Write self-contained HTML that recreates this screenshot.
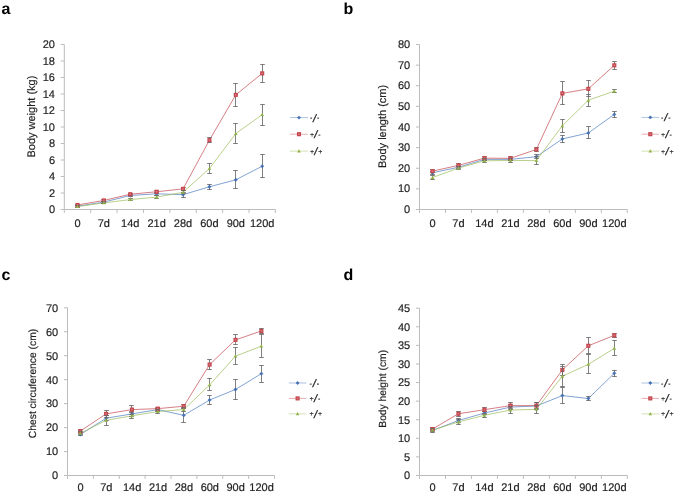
<!DOCTYPE html>
<html lang="en"><head><meta charset="utf-8"><title>Figure</title>
<style>html,body{margin:0;padding:0;background:#fff}body{width:685px;height:501px;overflow:hidden}svg{display:block;will-change:transform}</style>
</head><body>
<svg width="685" height="501" viewBox="0 0 685 501" font-family="'Liberation Sans', Arial, sans-serif" font-size="11" fill="#1f1f1f">
<style>text{text-rendering:geometricPrecision;stroke:#1f1f1f;stroke-width:.18px}text.pl{stroke:none}text.lg{stroke:#222;stroke-width:.12px;fill:#1c1c1c}</style>
<rect width="685" height="501" fill="#fff"/>
<g>
<text x="1.4" y="13.5" class="pl" font-size="16" font-weight="bold" fill="#000">a</text>
<path d="M64.3 44.5V209.5H275.4M60.8 209.5H64.3M60.8 193H64.3M60.8 176.5H64.3M60.8 160H64.3M60.8 143.5H64.3M60.8 127H64.3M60.8 110.5H64.3M60.8 94H64.3M60.8 77.5H64.3M60.8 61H64.3M60.8 44.5H64.3M64.3 209.5V212.9M90.69 209.5V212.9M117.07 209.5V212.9M143.46 209.5V212.9M169.85 209.5V212.9M196.24 209.5V212.9M222.62 209.5V212.9M249.01 209.5V212.9M275.4 209.5V212.9" fill="none" stroke="#bcbcbc" stroke-width="1"/>
<text x="55" y="213" text-anchor="end">0</text>
<text x="55" y="196.5" text-anchor="end">2</text>
<text x="55" y="180" text-anchor="end">4</text>
<text x="55" y="163.5" text-anchor="end">6</text>
<text x="55" y="147" text-anchor="end">8</text>
<text x="55" y="130.5" text-anchor="end">10</text>
<text x="55" y="114" text-anchor="end">12</text>
<text x="55" y="97.5" text-anchor="end">14</text>
<text x="55" y="81" text-anchor="end">16</text>
<text x="55" y="64.5" text-anchor="end">18</text>
<text x="55" y="48" text-anchor="end">20</text>
<text x="77.49" y="226.9" text-anchor="middle">0</text>
<text x="103.88" y="226.9" text-anchor="middle">7d</text>
<text x="130.27" y="226.9" text-anchor="middle">14d</text>
<text x="156.66" y="226.9" text-anchor="middle">21d</text>
<text x="183.04" y="226.9" text-anchor="middle">28d</text>
<text x="209.43" y="226.9" text-anchor="middle">60d</text>
<text x="235.82" y="226.9" text-anchor="middle">90d</text>
<text x="262.21" y="226.9" text-anchor="middle">120d</text>
<text transform="translate(34.9 116.6) rotate(-90)" text-anchor="middle" font-size="11">Body weight (kg)</text>
<polyline points="77.49,206.2 103.88,202.07 130.27,195.47 156.66,193.82 183.04,194.65 209.43,186.81 235.82,179.8 262.21,166.19" fill="none" stroke="#4A7CBE" stroke-width="0.7"/>
<polyline points="77.49,204.96 103.88,200.43 130.27,194.24 156.66,191.76 183.04,188.88 209.43,140.2 235.82,94.83 262.21,73.38" fill="none" stroke="#C4474F" stroke-width="0.7"/>
<polyline points="77.49,206.61 103.88,202.9 130.27,199.6 156.66,197.12 183.04,192.34 209.43,168.5 235.82,133.6 262.21,114.62" fill="none" stroke="#9BBB59" stroke-width="0.7"/>
<path d="M77.5 205.5V207.5M75.2 205.5H79.8M75.2 207.5H79.8M103.5 201.5V203.5M101.2 201.5H105.8M101.2 203.5H105.8M130.5 194.5V196.5M128.2 194.5H132.8M128.2 196.5H132.8M156.5 192.5V195.5M154.2 192.5H158.8M154.2 195.5H158.8M183.5 192.5V197.5M181.2 192.5H185.8M181.2 197.5H185.8M209.5 184.5V189.5M207.2 184.5H211.8M207.2 189.5H211.8M235.5 170.5V188.5M233.2 170.5H237.8M233.2 188.5H237.8M262.5 154.5V177.5M260.2 154.5H264.8M260.2 177.5H264.8" fill="none" stroke="#686868" stroke-width="0.85"/>
<path d="M77.49 204.5L79.19 206.2L77.49 207.9L75.79 206.2Z" fill="#4372BA" stroke="#37609F" stroke-width="0.4"/>
<path d="M103.88 200.38L105.58 202.07L103.88 203.77L102.18 202.07Z" fill="#4372BA" stroke="#37609F" stroke-width="0.4"/>
<path d="M130.27 193.78L131.97 195.47L130.27 197.17L128.57 195.47Z" fill="#4372BA" stroke="#37609F" stroke-width="0.4"/>
<path d="M156.66 192.12L158.36 193.82L156.66 195.52L154.96 193.82Z" fill="#4372BA" stroke="#37609F" stroke-width="0.4"/>
<path d="M183.04 192.95L184.74 194.65L183.04 196.35L181.34 194.65Z" fill="#4372BA" stroke="#37609F" stroke-width="0.4"/>
<path d="M209.43 185.11L211.13 186.81L209.43 188.51L207.73 186.81Z" fill="#4372BA" stroke="#37609F" stroke-width="0.4"/>
<path d="M235.82 178.1L237.52 179.8L235.82 181.5L234.12 179.8Z" fill="#4372BA" stroke="#37609F" stroke-width="0.4"/>
<path d="M262.21 164.49L263.91 166.19L262.21 167.89L260.51 166.19Z" fill="#4372BA" stroke="#37609F" stroke-width="0.4"/>
<path d="M77.5 204.5V205.5M75.2 204.5H79.8M75.2 205.5H79.8M103.5 199.5V201.5M101.2 199.5H105.8M101.2 201.5H105.8M130.5 193.5V195.5M128.2 193.5H132.8M128.2 195.5H132.8M156.5 190.5V193.5M154.2 190.5H158.8M154.2 193.5H158.8M183.5 187.5V190.5M181.2 187.5H185.8M181.2 190.5H185.8M209.5 137.5V142.5M207.2 137.5H211.8M207.2 142.5H211.8M235.5 83.5V106.5M233.2 83.5H237.8M233.2 106.5H237.8M262.5 64.5V82.5M260.2 64.5H264.8M260.2 82.5H264.8" fill="none" stroke="#686868" stroke-width="0.85"/>
<rect x="76.04" y="203.51" width="2.9" height="2.9" fill="#d8747a" stroke="#C4444C" stroke-width="1.2"/>
<rect x="102.43" y="198.98" width="2.9" height="2.9" fill="#d8747a" stroke="#C4444C" stroke-width="1.2"/>
<rect x="128.82" y="192.79" width="2.9" height="2.9" fill="#d8747a" stroke="#C4444C" stroke-width="1.2"/>
<rect x="155.21" y="190.31" width="2.9" height="2.9" fill="#d8747a" stroke="#C4444C" stroke-width="1.2"/>
<rect x="181.59" y="187.43" width="2.9" height="2.9" fill="#d8747a" stroke="#C4444C" stroke-width="1.2"/>
<rect x="207.98" y="138.75" width="2.9" height="2.9" fill="#d8747a" stroke="#C4444C" stroke-width="1.2"/>
<rect x="234.37" y="93.38" width="2.9" height="2.9" fill="#d8747a" stroke="#C4444C" stroke-width="1.2"/>
<rect x="260.76" y="71.92" width="2.9" height="2.9" fill="#d8747a" stroke="#C4444C" stroke-width="1.2"/>
<path d="M77.5 205.5V207.5M75.2 205.5H79.8M75.2 207.5H79.8M103.5 201.5V203.5M101.2 201.5H105.8M101.2 203.5H105.8M130.5 198.5V200.5M128.2 198.5H132.8M128.2 200.5H132.8M156.5 195.5V198.5M154.2 195.5H158.8M154.2 198.5H158.8M183.5 190.5V193.5M181.2 190.5H185.8M181.2 193.5H185.8M209.5 163.5V173.5M207.2 163.5H211.8M207.2 173.5H211.8M235.5 123.5V143.5M233.2 123.5H237.8M233.2 143.5H237.8M262.5 104.5V125.5M260.2 104.5H264.8M260.2 125.5H264.8" fill="none" stroke="#686868" stroke-width="0.85"/>
<path d="M77.49 204.81L79.29 208.05L75.69 208.05Z" fill="#92B446"/>
<path d="M103.88 201.1L105.68 204.34L102.08 204.34Z" fill="#92B446"/>
<path d="M130.27 197.8L132.07 201.04L128.47 201.04Z" fill="#92B446"/>
<path d="M156.66 195.32L158.46 198.56L154.86 198.56Z" fill="#92B446"/>
<path d="M183.04 190.54L184.84 193.78L181.24 193.78Z" fill="#92B446"/>
<path d="M209.43 166.7L211.23 169.94L207.63 169.94Z" fill="#92B446"/>
<path d="M235.82 131.8L237.62 135.04L234.02 135.04Z" fill="#92B446"/>
<path d="M262.21 112.83L264.01 116.06L260.41 116.06Z" fill="#92B446"/>
<path d="M290 117.6H308" stroke="#4A7CBE" stroke-width="0.6" stroke-opacity="0.75"/>
<path d="M299 115.9L300.7 117.6L299 119.3L297.3 117.6Z" fill="#4372BA" stroke="#37609F" stroke-width="0.4"/>
<text class="lg" x="309.9" y="120" font-size="7">-</text>
<text class="lg" transform="translate(312.6 121.5) skewX(-11)" font-size="10.7" style="stroke-width:.28px;fill:#111">/</text>
<text class="lg" x="317.1" y="120" font-size="7">-</text>
<path d="M290 134.2H308" stroke="#C4474F" stroke-width="0.6" stroke-opacity="0.75"/>
<rect x="297.55" y="132.75" width="2.9" height="2.9" fill="#d8747a" stroke="#C4444C" stroke-width="1.2"/>
<text class="lg" x="309.9" y="137" font-size="7">+</text>
<text class="lg" transform="translate(313.8 138.1) skewX(-11)" font-size="10.7" style="stroke-width:.28px;fill:#111">/</text>
<text class="lg" x="318.3" y="137" font-size="7">-</text>
<path d="M290 151.1H308" stroke="#9BBB59" stroke-width="0.6" stroke-opacity="0.75"/>
<path d="M299 149.3L300.8 152.54L297.2 152.54Z" fill="#92B446"/>
<text class="lg" x="309.9" y="154" font-size="7">+</text>
<text class="lg" transform="translate(313.8 155) skewX(-11)" font-size="10.7" style="stroke-width:.28px;fill:#111">/</text>
<text class="lg" x="318.3" y="154" font-size="7">+</text>
</g>
<g>
<text x="343.4" y="13.5" class="pl" font-size="16" font-weight="bold" fill="#000">b</text>
<path d="M419.5 44.5V209.5H627.3M416 209.5H419.5M416 188.88H419.5M416 168.25H419.5M416 147.62H419.5M416 127H419.5M416 106.38H419.5M416 85.75H419.5M416 65.12H419.5M416 44.5H419.5M419.5 209.5V212.9M445.48 209.5V212.9M471.45 209.5V212.9M497.42 209.5V212.9M523.4 209.5V212.9M549.38 209.5V212.9M575.35 209.5V212.9M601.32 209.5V212.9M627.3 209.5V212.9" fill="none" stroke="#bcbcbc" stroke-width="1"/>
<text x="410.2" y="213" text-anchor="end">0</text>
<text x="410.2" y="192.38" text-anchor="end">10</text>
<text x="410.2" y="171.75" text-anchor="end">20</text>
<text x="410.2" y="151.12" text-anchor="end">30</text>
<text x="410.2" y="130.5" text-anchor="end">40</text>
<text x="410.2" y="109.88" text-anchor="end">50</text>
<text x="410.2" y="89.25" text-anchor="end">60</text>
<text x="410.2" y="68.62" text-anchor="end">70</text>
<text x="410.2" y="48" text-anchor="end">80</text>
<text x="432.49" y="226.9" text-anchor="middle">0</text>
<text x="458.46" y="226.9" text-anchor="middle">7d</text>
<text x="484.44" y="226.9" text-anchor="middle">14d</text>
<text x="510.41" y="226.9" text-anchor="middle">21d</text>
<text x="536.39" y="226.9" text-anchor="middle">28d</text>
<text x="562.36" y="226.9" text-anchor="middle">60d</text>
<text x="588.34" y="226.9" text-anchor="middle">90d</text>
<text x="614.31" y="226.9" text-anchor="middle">120d</text>
<text transform="translate(385.7 126.4) rotate(-90)" text-anchor="middle" font-size="11">Body length (cm)</text>
<polyline points="432.49,172.79 458.46,167.22 484.44,159.38 510.41,159.38 536.39,156.7 562.36,138.96 588.34,132.98 614.31,114.42" fill="none" stroke="#4A7CBE" stroke-width="0.7"/>
<polyline points="432.49,171.14 458.46,165.36 484.44,158.14 510.41,158.35 536.39,149.48 562.36,93.38 588.34,88.84 614.31,65.33" fill="none" stroke="#C4474F" stroke-width="0.7"/>
<polyline points="432.49,177.53 458.46,168.04 484.44,160.82 510.41,160.41 536.39,160.62 562.36,125.76 588.34,100.19 614.31,91.11" fill="none" stroke="#9BBB59" stroke-width="0.7"/>
<path d="M432.5 171.5V174.5M430.2 171.5H434.8M430.2 174.5H434.8M458.5 165.5V168.5M456.2 165.5H460.8M456.2 168.5H460.8M484.5 158.5V160.5M482.2 158.5H486.8M482.2 160.5H486.8M510.5 158.5V160.5M508.2 158.5H512.8M508.2 160.5H512.8M536.5 154.5V158.5M534.2 154.5H538.8M534.2 158.5H538.8M562.5 135.5V142.5M560.2 135.5H564.8M560.2 142.5H564.8M588.5 126.5V138.5M586.2 126.5H590.8M586.2 138.5H590.8M614.5 111.5V117.5M612.2 111.5H616.8M612.2 117.5H616.8" fill="none" stroke="#686868" stroke-width="0.85"/>
<path d="M432.49 171.09L434.19 172.79L432.49 174.49L430.79 172.79Z" fill="#4372BA" stroke="#37609F" stroke-width="0.4"/>
<path d="M458.46 165.52L460.16 167.22L458.46 168.92L456.76 167.22Z" fill="#4372BA" stroke="#37609F" stroke-width="0.4"/>
<path d="M484.44 157.68L486.14 159.38L484.44 161.08L482.74 159.38Z" fill="#4372BA" stroke="#37609F" stroke-width="0.4"/>
<path d="M510.41 157.68L512.11 159.38L510.41 161.08L508.71 159.38Z" fill="#4372BA" stroke="#37609F" stroke-width="0.4"/>
<path d="M536.39 155L538.09 156.7L536.39 158.4L534.69 156.7Z" fill="#4372BA" stroke="#37609F" stroke-width="0.4"/>
<path d="M562.36 137.26L564.06 138.96L562.36 140.66L560.66 138.96Z" fill="#4372BA" stroke="#37609F" stroke-width="0.4"/>
<path d="M588.34 131.28L590.04 132.98L588.34 134.68L586.64 132.98Z" fill="#4372BA" stroke="#37609F" stroke-width="0.4"/>
<path d="M614.31 112.72L616.01 114.42L614.31 116.12L612.61 114.42Z" fill="#4372BA" stroke="#37609F" stroke-width="0.4"/>
<path d="M432.5 169.5V172.5M430.2 169.5H434.8M430.2 172.5H434.8M458.5 163.5V166.5M456.2 163.5H460.8M456.2 166.5H460.8M484.5 156.5V160.5M482.2 156.5H486.8M482.2 160.5H486.8M510.5 156.5V160.5M508.2 156.5H512.8M508.2 160.5H512.8M536.5 147.5V151.5M534.2 147.5H538.8M534.2 151.5H538.8M562.5 81.5V104.5M560.2 81.5H564.8M560.2 104.5H564.8M588.5 80.5V96.5M586.2 80.5H590.8M586.2 96.5H590.8M614.5 61.5V69.5M612.2 61.5H616.8M612.2 69.5H616.8" fill="none" stroke="#686868" stroke-width="0.85"/>
<rect x="431.04" y="169.69" width="2.9" height="2.9" fill="#d8747a" stroke="#C4444C" stroke-width="1.2"/>
<rect x="457.01" y="163.91" width="2.9" height="2.9" fill="#d8747a" stroke="#C4444C" stroke-width="1.2"/>
<rect x="482.99" y="156.69" width="2.9" height="2.9" fill="#d8747a" stroke="#C4444C" stroke-width="1.2"/>
<rect x="508.96" y="156.9" width="2.9" height="2.9" fill="#d8747a" stroke="#C4444C" stroke-width="1.2"/>
<rect x="534.94" y="148.03" width="2.9" height="2.9" fill="#d8747a" stroke="#C4444C" stroke-width="1.2"/>
<rect x="560.91" y="91.93" width="2.9" height="2.9" fill="#d8747a" stroke="#C4444C" stroke-width="1.2"/>
<rect x="586.89" y="87.39" width="2.9" height="2.9" fill="#d8747a" stroke="#C4444C" stroke-width="1.2"/>
<rect x="612.86" y="63.88" width="2.9" height="2.9" fill="#d8747a" stroke="#C4444C" stroke-width="1.2"/>
<path d="M432.5 175.5V179.5M430.2 175.5H434.8M430.2 179.5H434.8M458.5 166.5V169.5M456.2 166.5H460.8M456.2 169.5H460.8M484.5 158.5V162.5M482.2 158.5H486.8M482.2 162.5H486.8M510.5 158.5V162.5M508.2 158.5H512.8M508.2 162.5H512.8M536.5 156.5V164.5M534.2 156.5H538.8M534.2 164.5H538.8M562.5 119.5V132.5M560.2 119.5H564.8M560.2 132.5H564.8M588.5 94.5V106.5M586.2 94.5H590.8M586.2 106.5H590.8M614.5 89.5V92.5M612.2 89.5H616.8M612.2 92.5H616.8" fill="none" stroke="#686868" stroke-width="0.85"/>
<path d="M432.49 175.73L434.29 178.97L430.69 178.97Z" fill="#92B446"/>
<path d="M458.46 166.24L460.26 169.48L456.66 169.48Z" fill="#92B446"/>
<path d="M484.44 159.02L486.24 162.26L482.64 162.26Z" fill="#92B446"/>
<path d="M510.41 158.61L512.21 161.85L508.61 161.85Z" fill="#92B446"/>
<path d="M536.39 158.82L538.19 162.06L534.59 162.06Z" fill="#92B446"/>
<path d="M562.36 123.96L564.16 127.2L560.56 127.2Z" fill="#92B446"/>
<path d="M588.34 98.39L590.14 101.63L586.54 101.63Z" fill="#92B446"/>
<path d="M614.31 89.31L616.11 92.55L612.51 92.55Z" fill="#92B446"/>
<path d="M641.5 117.4H659.1" stroke="#4A7CBE" stroke-width="0.6" stroke-opacity="0.75"/>
<path d="M650.3 115.7L652 117.4L650.3 119.1L648.6 117.4Z" fill="#4372BA" stroke="#37609F" stroke-width="0.4"/>
<text class="lg" x="661.1" y="120" font-size="7">-</text>
<text class="lg" transform="translate(663.8 121.3) skewX(-11)" font-size="10.7" style="stroke-width:.28px;fill:#111">/</text>
<text class="lg" x="668.3" y="120" font-size="7">-</text>
<path d="M641.5 134.2H659.1" stroke="#C4474F" stroke-width="0.6" stroke-opacity="0.75"/>
<rect x="648.85" y="132.75" width="2.9" height="2.9" fill="#d8747a" stroke="#C4444C" stroke-width="1.2"/>
<text class="lg" x="661.1" y="137" font-size="7">+</text>
<text class="lg" transform="translate(665 138.1) skewX(-11)" font-size="10.7" style="stroke-width:.28px;fill:#111">/</text>
<text class="lg" x="669.5" y="137" font-size="7">-</text>
<path d="M641.5 151.1H659.1" stroke="#9BBB59" stroke-width="0.6" stroke-opacity="0.75"/>
<path d="M650.3 149.3L652.1 152.54L648.5 152.54Z" fill="#92B446"/>
<text class="lg" x="661.1" y="154" font-size="7">+</text>
<text class="lg" transform="translate(665 155) skewX(-11)" font-size="10.7" style="stroke-width:.28px;fill:#111">/</text>
<text class="lg" x="669.5" y="154" font-size="7">+</text>
</g>
<g>
<text x="1.4" y="279.5" class="pl" font-size="16" font-weight="bold" fill="#000">c</text>
<path d="M67.5 307.8V475.5H274.5M64 475.5H67.5M64 451.54H67.5M64 427.59H67.5M64 403.63H67.5M64 379.67H67.5M64 355.71H67.5M64 331.76H67.5M64 307.8H67.5M67.5 475.5V478.9M93.38 475.5V478.9M119.25 475.5V478.9M145.12 475.5V478.9M171 475.5V478.9M196.88 475.5V478.9M222.75 475.5V478.9M248.62 475.5V478.9M274.5 475.5V478.9" fill="none" stroke="#bcbcbc" stroke-width="1"/>
<text x="58.2" y="479.35" text-anchor="end">0</text>
<text x="58.2" y="455.39" text-anchor="end">10</text>
<text x="58.2" y="431.44" text-anchor="end">20</text>
<text x="58.2" y="407.48" text-anchor="end">30</text>
<text x="58.2" y="383.52" text-anchor="end">40</text>
<text x="58.2" y="359.56" text-anchor="end">50</text>
<text x="58.2" y="335.61" text-anchor="end">60</text>
<text x="58.2" y="311.65" text-anchor="end">70</text>
<text x="80.44" y="491.2" text-anchor="middle">0</text>
<text x="106.31" y="491.2" text-anchor="middle">7d</text>
<text x="132.19" y="491.2" text-anchor="middle">14d</text>
<text x="158.06" y="491.2" text-anchor="middle">21d</text>
<text x="183.94" y="491.2" text-anchor="middle">28d</text>
<text x="209.81" y="491.2" text-anchor="middle">60d</text>
<text x="235.69" y="491.2" text-anchor="middle">90d</text>
<text x="261.56" y="491.2" text-anchor="middle">120d</text>
<text transform="translate(35.7 383.5) rotate(-90)" text-anchor="middle" font-size="10.3">Chest circuference (cm)</text>
<polyline points="80.24,434.5 106.11,418.21 131.99,413.9 157.86,409.59 183.74,415.34 209.61,400.01 235.49,389.46 261.36,373.65" fill="none" stroke="#4A7CBE" stroke-width="0.7"/>
<polyline points="80.24,431.15 106.11,413.9 131.99,409.59 157.86,408.63 183.74,406.23 209.61,364.55 235.49,339.87 261.36,331.01" fill="none" stroke="#C4474F" stroke-width="0.7"/>
<polyline points="80.24,433.31 106.11,420.37 131.99,415.82 157.86,411.51 183.74,409.59 209.61,384.91 235.49,356.16 261.36,346.1" fill="none" stroke="#9BBB59" stroke-width="0.7"/>
<path d="M80.5 433.5V435.5M78.2 433.5H82.8M78.2 435.5H82.8M106.5 415.5V420.5M104.2 415.5H108.8M104.2 420.5H108.8M131.5 411.5V416.5M129.2 411.5H133.8M129.2 416.5H133.8M157.5 408.5V411.5M155.2 408.5H159.8M155.2 411.5H159.8M183.5 408.5V422.5M181.2 408.5H185.8M181.2 422.5H185.8M209.5 395.5V404.5M207.2 395.5H211.8M207.2 404.5H211.8M235.5 379.5V399.5M233.2 379.5H237.8M233.2 399.5H237.8M261.5 365.5V382.5M259.2 365.5H263.8M259.2 382.5H263.8" fill="none" stroke="#686868" stroke-width="0.85"/>
<path d="M80.24 432.8L81.94 434.5L80.24 436.2L78.54 434.5Z" fill="#4372BA" stroke="#37609F" stroke-width="0.4"/>
<path d="M106.11 416.51L107.81 418.21L106.11 419.91L104.41 418.21Z" fill="#4372BA" stroke="#37609F" stroke-width="0.4"/>
<path d="M131.99 412.2L133.69 413.9L131.99 415.6L130.29 413.9Z" fill="#4372BA" stroke="#37609F" stroke-width="0.4"/>
<path d="M157.86 407.89L159.56 409.59L157.86 411.29L156.16 409.59Z" fill="#4372BA" stroke="#37609F" stroke-width="0.4"/>
<path d="M183.74 413.64L185.44 415.34L183.74 417.04L182.04 415.34Z" fill="#4372BA" stroke="#37609F" stroke-width="0.4"/>
<path d="M209.61 398.31L211.31 400.01L209.61 401.71L207.91 400.01Z" fill="#4372BA" stroke="#37609F" stroke-width="0.4"/>
<path d="M235.49 387.76L237.19 389.46L235.49 391.16L233.79 389.46Z" fill="#4372BA" stroke="#37609F" stroke-width="0.4"/>
<path d="M261.36 371.95L263.06 373.65L261.36 375.35L259.66 373.65Z" fill="#4372BA" stroke="#37609F" stroke-width="0.4"/>
<path d="M80.5 429.5V432.5M78.2 429.5H82.8M78.2 432.5H82.8M106.5 410.5V417.5M104.2 410.5H108.8M104.2 417.5H108.8M131.5 405.5V414.5M129.2 405.5H133.8M129.2 414.5H133.8M157.5 407.5V410.5M155.2 407.5H159.8M155.2 410.5H159.8M183.5 404.5V408.5M181.2 404.5H185.8M181.2 408.5H185.8M209.5 359.5V369.5M207.2 359.5H211.8M207.2 369.5H211.8M235.5 334.5V344.5M233.2 334.5H237.8M233.2 344.5H237.8M261.5 328.5V333.5M259.2 328.5H263.8M259.2 333.5H263.8" fill="none" stroke="#686868" stroke-width="0.85"/>
<rect x="78.79" y="429.7" width="2.9" height="2.9" fill="#d8747a" stroke="#C4444C" stroke-width="1.2"/>
<rect x="104.66" y="412.45" width="2.9" height="2.9" fill="#d8747a" stroke="#C4444C" stroke-width="1.2"/>
<rect x="130.54" y="408.14" width="2.9" height="2.9" fill="#d8747a" stroke="#C4444C" stroke-width="1.2"/>
<rect x="156.41" y="407.18" width="2.9" height="2.9" fill="#d8747a" stroke="#C4444C" stroke-width="1.2"/>
<rect x="182.29" y="404.78" width="2.9" height="2.9" fill="#d8747a" stroke="#C4444C" stroke-width="1.2"/>
<rect x="208.16" y="363.1" width="2.9" height="2.9" fill="#d8747a" stroke="#C4444C" stroke-width="1.2"/>
<rect x="234.04" y="338.42" width="2.9" height="2.9" fill="#d8747a" stroke="#C4444C" stroke-width="1.2"/>
<rect x="259.91" y="329.56" width="2.9" height="2.9" fill="#d8747a" stroke="#C4444C" stroke-width="1.2"/>
<path d="M80.5 431.5V434.5M78.2 431.5H82.8M78.2 434.5H82.8M106.5 415.5V425.5M104.2 415.5H108.8M104.2 425.5H108.8M131.5 412.5V418.5M129.2 412.5H133.8M129.2 418.5H133.8M157.5 409.5V413.5M155.2 409.5H159.8M155.2 413.5H159.8M183.5 407.5V411.5M181.2 407.5H185.8M181.2 411.5H185.8M209.5 378.5V390.5M207.2 378.5H211.8M207.2 390.5H211.8M235.5 347.5V364.5M233.2 347.5H237.8M233.2 364.5H237.8M261.5 334.5V357.5M259.2 334.5H263.8M259.2 357.5H263.8" fill="none" stroke="#686868" stroke-width="0.85"/>
<path d="M80.24 431.51L82.04 434.75L78.44 434.75Z" fill="#92B446"/>
<path d="M106.11 418.57L107.91 421.81L104.31 421.81Z" fill="#92B446"/>
<path d="M131.99 414.02L133.79 417.26L130.19 417.26Z" fill="#92B446"/>
<path d="M157.86 409.71L159.66 412.95L156.06 412.95Z" fill="#92B446"/>
<path d="M183.74 407.79L185.54 411.03L181.94 411.03Z" fill="#92B446"/>
<path d="M209.61 383.11L211.41 386.35L207.81 386.35Z" fill="#92B446"/>
<path d="M235.49 354.36L237.29 357.6L233.69 357.6Z" fill="#92B446"/>
<path d="M261.36 344.3L263.16 347.54L259.56 347.54Z" fill="#92B446"/>
<path d="M288.8 383H306.4" stroke="#4A7CBE" stroke-width="0.6" stroke-opacity="0.75"/>
<path d="M297.6 381.3L299.3 383L297.6 384.7L295.9 383Z" fill="#4372BA" stroke="#37609F" stroke-width="0.4"/>
<text class="lg" x="309.6" y="386" font-size="7">-</text>
<text class="lg" transform="translate(312.3 386.9) skewX(-11)" font-size="10.7" style="stroke-width:.28px;fill:#111">/</text>
<text class="lg" x="316.8" y="386" font-size="7">-</text>
<path d="M288.8 398.4H306.4" stroke="#C4474F" stroke-width="0.6" stroke-opacity="0.75"/>
<rect x="296.15" y="396.95" width="2.9" height="2.9" fill="#d8747a" stroke="#C4444C" stroke-width="1.2"/>
<text class="lg" x="309.6" y="401" font-size="7">+</text>
<text class="lg" transform="translate(313.5 402.3) skewX(-11)" font-size="10.7" style="stroke-width:.28px;fill:#111">/</text>
<text class="lg" x="318" y="401" font-size="7">-</text>
<path d="M288.8 413.9H306.4" stroke="#9BBB59" stroke-width="0.6" stroke-opacity="0.75"/>
<path d="M297.6 412.1L299.4 415.34L295.8 415.34Z" fill="#92B446"/>
<text class="lg" x="309.6" y="416" font-size="7">+</text>
<text class="lg" transform="translate(313.5 417.8) skewX(-11)" font-size="10.7" style="stroke-width:.28px;fill:#111">/</text>
<text class="lg" x="318" y="416" font-size="7">+</text>
</g>
<g>
<text x="343.4" y="279.5" class="pl" font-size="16" font-weight="bold" fill="#000">d</text>
<path d="M419.5 308.2V475.5H627.3M416 475.5H419.5M416 456.91H419.5M416 438.32H419.5M416 419.73H419.5M416 401.14H419.5M416 382.56H419.5M416 363.97H419.5M416 345.38H419.5M416 326.79H419.5M416 308.2H419.5M419.5 475.5V478.9M445.48 475.5V478.9M471.45 475.5V478.9M497.42 475.5V478.9M523.4 475.5V478.9M549.38 475.5V478.9M575.35 475.5V478.9M601.32 475.5V478.9M627.3 475.5V478.9" fill="none" stroke="#bcbcbc" stroke-width="1"/>
<text x="410.2" y="479.35" text-anchor="end">0</text>
<text x="410.2" y="460.76" text-anchor="end">5</text>
<text x="410.2" y="442.17" text-anchor="end">10</text>
<text x="410.2" y="423.58" text-anchor="end">15</text>
<text x="410.2" y="404.99" text-anchor="end">20</text>
<text x="410.2" y="386.41" text-anchor="end">25</text>
<text x="410.2" y="367.82" text-anchor="end">30</text>
<text x="410.2" y="349.23" text-anchor="end">35</text>
<text x="410.2" y="330.64" text-anchor="end">40</text>
<text x="410.2" y="312.05" text-anchor="end">45</text>
<text x="432.49" y="491.2" text-anchor="middle">0</text>
<text x="458.46" y="491.2" text-anchor="middle">7d</text>
<text x="484.44" y="491.2" text-anchor="middle">14d</text>
<text x="510.41" y="491.2" text-anchor="middle">21d</text>
<text x="536.39" y="491.2" text-anchor="middle">28d</text>
<text x="562.36" y="491.2" text-anchor="middle">60d</text>
<text x="588.34" y="491.2" text-anchor="middle">90d</text>
<text x="614.31" y="491.2" text-anchor="middle">120d</text>
<text transform="translate(385.8 388.8) rotate(-90)" text-anchor="middle" font-size="10.3">Body height (cm)</text>
<polyline points="432.49,430.51 458.46,420.48 484.44,413.04 510.41,407.09 536.39,405.98 562.36,395.57 588.34,398.54 614.31,373.26" fill="none" stroke="#4A7CBE" stroke-width="0.7"/>
<polyline points="432.49,429.03 458.46,413.78 484.44,409.7 510.41,405.61 536.39,405.61 562.36,369.92 588.34,345.75 614.31,335.34" fill="none" stroke="#C4474F" stroke-width="0.7"/>
<polyline points="432.49,430.14 458.46,421.96 484.44,415.27 510.41,410.07 536.39,409.32 562.36,376.24 588.34,364.34 614.31,348.35" fill="none" stroke="#9BBB59" stroke-width="0.7"/>
<path d="M432.5 429.5V432.5M430.2 429.5H434.8M430.2 432.5H434.8M458.5 418.5V422.5M456.2 418.5H460.8M456.2 422.5H460.8M484.5 411.5V414.5M482.2 411.5H486.8M482.2 414.5H486.8M510.5 404.5V409.5M508.2 404.5H512.8M508.2 409.5H512.8M536.5 402.5V409.5M534.2 402.5H538.8M534.2 409.5H538.8M562.5 387.5V403.5M560.2 387.5H564.8M560.2 403.5H564.8M588.5 396.5V400.5M586.2 396.5H590.8M586.2 400.5H590.8M614.5 370.5V376.5M612.2 370.5H616.8M612.2 376.5H616.8" fill="none" stroke="#686868" stroke-width="0.85"/>
<path d="M432.49 428.81L434.19 430.51L432.49 432.21L430.79 430.51Z" fill="#4372BA" stroke="#37609F" stroke-width="0.4"/>
<path d="M458.46 418.78L460.16 420.48L458.46 422.18L456.76 420.48Z" fill="#4372BA" stroke="#37609F" stroke-width="0.4"/>
<path d="M484.44 411.34L486.14 413.04L484.44 414.74L482.74 413.04Z" fill="#4372BA" stroke="#37609F" stroke-width="0.4"/>
<path d="M510.41 405.39L512.11 407.09L510.41 408.79L508.71 407.09Z" fill="#4372BA" stroke="#37609F" stroke-width="0.4"/>
<path d="M536.39 404.28L538.09 405.98L536.39 407.68L534.69 405.98Z" fill="#4372BA" stroke="#37609F" stroke-width="0.4"/>
<path d="M562.36 393.87L564.06 395.57L562.36 397.27L560.66 395.57Z" fill="#4372BA" stroke="#37609F" stroke-width="0.4"/>
<path d="M588.34 396.84L590.04 398.54L588.34 400.24L586.64 398.54Z" fill="#4372BA" stroke="#37609F" stroke-width="0.4"/>
<path d="M614.31 371.56L616.01 373.26L614.31 374.96L612.61 373.26Z" fill="#4372BA" stroke="#37609F" stroke-width="0.4"/>
<path d="M432.5 427.5V430.5M430.2 427.5H434.8M430.2 430.5H434.8M458.5 411.5V416.5M456.2 411.5H460.8M456.2 416.5H460.8M484.5 407.5V411.5M482.2 407.5H486.8M482.2 411.5H486.8M510.5 402.5V408.5M508.2 402.5H512.8M508.2 408.5H512.8M536.5 402.5V408.5M534.2 402.5H538.8M534.2 408.5H538.8M562.5 364.5V375.5M560.2 364.5H564.8M560.2 375.5H564.8M588.5 337.5V353.5M586.2 337.5H590.8M586.2 353.5H590.8M614.5 333.5V337.5M612.2 333.5H616.8M612.2 337.5H616.8" fill="none" stroke="#686868" stroke-width="0.85"/>
<rect x="431.04" y="427.58" width="2.9" height="2.9" fill="#d8747a" stroke="#C4444C" stroke-width="1.2"/>
<rect x="457.01" y="412.33" width="2.9" height="2.9" fill="#d8747a" stroke="#C4444C" stroke-width="1.2"/>
<rect x="482.99" y="408.25" width="2.9" height="2.9" fill="#d8747a" stroke="#C4444C" stroke-width="1.2"/>
<rect x="508.96" y="404.16" width="2.9" height="2.9" fill="#d8747a" stroke="#C4444C" stroke-width="1.2"/>
<rect x="534.94" y="404.16" width="2.9" height="2.9" fill="#d8747a" stroke="#C4444C" stroke-width="1.2"/>
<rect x="560.91" y="368.47" width="2.9" height="2.9" fill="#d8747a" stroke="#C4444C" stroke-width="1.2"/>
<rect x="586.89" y="344.3" width="2.9" height="2.9" fill="#d8747a" stroke="#C4444C" stroke-width="1.2"/>
<rect x="612.86" y="333.89" width="2.9" height="2.9" fill="#d8747a" stroke="#C4444C" stroke-width="1.2"/>
<path d="M432.5 428.5V431.5M430.2 428.5H434.8M430.2 431.5H434.8M458.5 419.5V424.5M456.2 419.5H460.8M456.2 424.5H460.8M484.5 413.5V417.5M482.2 413.5H486.8M482.2 417.5H486.8M510.5 406.5V413.5M508.2 406.5H512.8M508.2 413.5H512.8M536.5 405.5V413.5M534.2 405.5H538.8M534.2 413.5H538.8M562.5 366.5V386.5M560.2 366.5H564.8M560.2 386.5H564.8M588.5 354.5V373.5M586.2 354.5H590.8M586.2 373.5H590.8M614.5 340.5V355.5M612.2 340.5H616.8M612.2 355.5H616.8" fill="none" stroke="#686868" stroke-width="0.85"/>
<path d="M432.49 428.34L434.29 431.58L430.69 431.58Z" fill="#92B446"/>
<path d="M458.46 420.16L460.26 423.4L456.66 423.4Z" fill="#92B446"/>
<path d="M484.44 413.47L486.24 416.71L482.64 416.71Z" fill="#92B446"/>
<path d="M510.41 408.27L512.21 411.51L508.61 411.51Z" fill="#92B446"/>
<path d="M536.39 407.52L538.19 410.76L534.59 410.76Z" fill="#92B446"/>
<path d="M562.36 374.44L564.16 377.68L560.56 377.68Z" fill="#92B446"/>
<path d="M588.34 362.54L590.14 365.78L586.54 365.78Z" fill="#92B446"/>
<path d="M614.31 346.55L616.11 349.79L612.51 349.79Z" fill="#92B446"/>
<path d="M641.5 383H659.1" stroke="#4A7CBE" stroke-width="0.6" stroke-opacity="0.75"/>
<path d="M650.3 381.3L652 383L650.3 384.7L648.6 383Z" fill="#4372BA" stroke="#37609F" stroke-width="0.4"/>
<text class="lg" x="661.1" y="386" font-size="7">-</text>
<text class="lg" transform="translate(663.8 386.9) skewX(-11)" font-size="10.7" style="stroke-width:.28px;fill:#111">/</text>
<text class="lg" x="668.3" y="386" font-size="7">-</text>
<path d="M641.5 398.4H659.1" stroke="#C4474F" stroke-width="0.6" stroke-opacity="0.75"/>
<rect x="648.85" y="396.95" width="2.9" height="2.9" fill="#d8747a" stroke="#C4444C" stroke-width="1.2"/>
<text class="lg" x="661.1" y="401" font-size="7">+</text>
<text class="lg" transform="translate(665 402.3) skewX(-11)" font-size="10.7" style="stroke-width:.28px;fill:#111">/</text>
<text class="lg" x="669.5" y="401" font-size="7">-</text>
<path d="M641.5 413.9H659.1" stroke="#9BBB59" stroke-width="0.6" stroke-opacity="0.75"/>
<path d="M650.3 412.1L652.1 415.34L648.5 415.34Z" fill="#92B446"/>
<text class="lg" x="661.1" y="416" font-size="7">+</text>
<text class="lg" transform="translate(665 417.8) skewX(-11)" font-size="10.7" style="stroke-width:.28px;fill:#111">/</text>
<text class="lg" x="669.5" y="416" font-size="7">+</text>
</g>
</svg>
</body></html>
